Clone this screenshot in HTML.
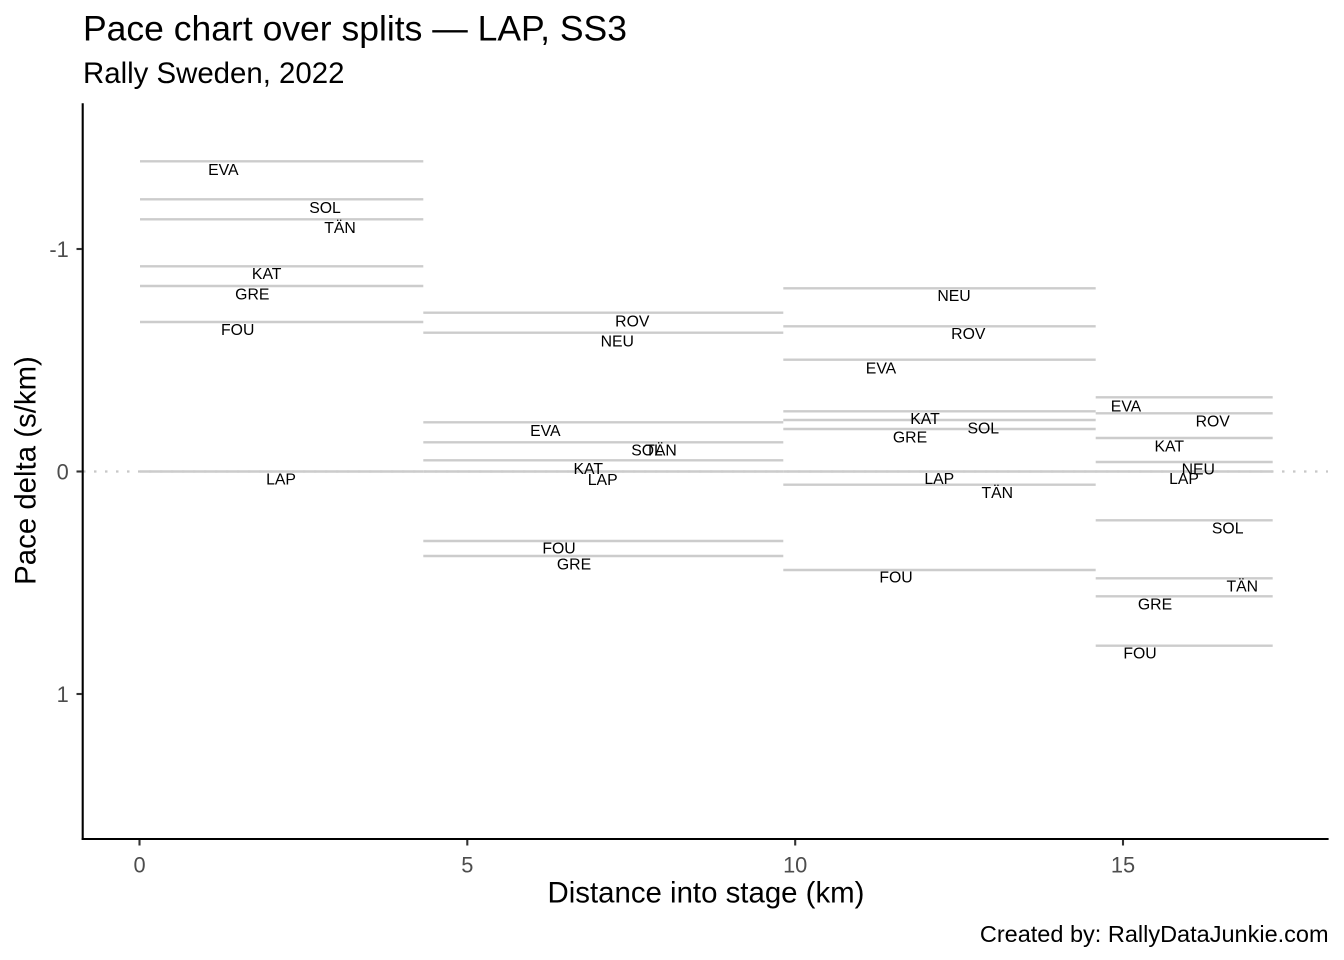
<!DOCTYPE html>
<html>
<head>
<meta charset="utf-8">
<style>
  html, body { margin: 0; padding: 0; background: #ffffff; }
  svg { display: block; }
  text { font-family: "Liberation Sans", Arial, sans-serif; }
</style>
</head>
<body>
<svg width="1344" height="960" viewBox="0 0 1344 960" xmlns="http://www.w3.org/2000/svg">
  <rect x="0" y="0" width="1344" height="960" fill="#ffffff"/>

  <!-- Title / subtitle -->
  <text x="83" y="40.5" font-size="35.5" fill="#000000">Pace chart over splits — LAP, SS3</text>
  <text x="83" y="83" font-size="29.4" fill="#000000">Rally Sweden, 2022</text>

  <!-- zero reference dotted line -->
  <line x1="83" y1="471.5" x2="1328" y2="471.5" stroke="#c8c8c8" stroke-width="2.2" stroke-dasharray="2.5 8.5"/>

  <!-- Segment lines -->
  <g stroke="#cccccc" stroke-width="2.4" fill="none">
    <!-- seg 1 -->
    <line x1="140" y1="161.3" x2="423.3" y2="161.3"/>
    <line x1="140" y1="199.3" x2="423.3" y2="199.3"/>
    <line x1="140" y1="219.3" x2="423.3" y2="219.3"/>
    <line x1="140" y1="266.3" x2="423.3" y2="266.3"/>
    <line x1="140" y1="286" x2="423.3" y2="286"/>
    <line x1="140" y1="322" x2="423.3" y2="322"/>
    <line x1="140" y1="471.5" x2="423.3" y2="471.5"/>
    <!-- seg 2 -->
    <line x1="423.3" y1="312.7" x2="783.3" y2="312.7"/>
    <line x1="423.3" y1="332.7" x2="783.3" y2="332.7"/>
    <line x1="423.3" y1="422.3" x2="783.3" y2="422.3"/>
    <line x1="423.3" y1="442.3" x2="783.3" y2="442.3"/>
    <line x1="423.3" y1="460.3" x2="783.3" y2="460.3"/>
    <line x1="423.3" y1="471.5" x2="783.3" y2="471.5"/>
    <line x1="423.3" y1="541" x2="783.3" y2="541"/>
    <line x1="423.3" y1="556" x2="783.3" y2="556"/>
    <!-- seg 3 -->
    <line x1="783.3" y1="288.3" x2="1095.7" y2="288.3"/>
    <line x1="783.3" y1="326.3" x2="1095.7" y2="326.3"/>
    <line x1="783.3" y1="359.7" x2="1095.7" y2="359.7"/>
    <line x1="783.3" y1="411.3" x2="1095.7" y2="411.3"/>
    <line x1="783.3" y1="420" x2="1095.7" y2="420"/>
    <line x1="783.3" y1="429" x2="1095.7" y2="429"/>
    <line x1="783.3" y1="471.5" x2="1095.7" y2="471.5"/>
    <line x1="783.3" y1="484.7" x2="1095.7" y2="484.7"/>
    <line x1="783.3" y1="570" x2="1095.7" y2="570"/>
    <!-- seg 4 -->
    <line x1="1095.7" y1="397.3" x2="1272.7" y2="397.3"/>
    <line x1="1095.7" y1="413.3" x2="1272.7" y2="413.3"/>
    <line x1="1095.7" y1="438" x2="1272.7" y2="438"/>
    <line x1="1095.7" y1="462" x2="1272.7" y2="462"/>
    <line x1="1095.7" y1="471.5" x2="1272.7" y2="471.5"/>
    <line x1="1095.7" y1="520.3" x2="1272.7" y2="520.3"/>
    <line x1="1095.7" y1="578.3" x2="1272.7" y2="578.3"/>
    <line x1="1095.7" y1="596.3" x2="1272.7" y2="596.3"/>
    <line x1="1095.7" y1="645.7" x2="1272.7" y2="645.7"/>
  </g>

  <!-- Labels -->
  <g font-size="15.8" fill="#000000" text-anchor="middle">
    <!-- seg 1 -->
    <text x="223.3" y="174.9">EVA</text>
    <text x="325" y="212.9">SOL</text>
    <text x="340" y="232.9">TÄN</text>
    <text x="266.7" y="278.9">KAT</text>
    <text x="252.3" y="299.6">GRE</text>
    <text x="237.7" y="334.9">FOU</text>
    <text x="281" y="484.6">LAP</text>
    <!-- seg 2 -->
    <text x="632.3" y="326.3">ROV</text>
    <text x="617.3" y="346.3">NEU</text>
    <text x="545.3" y="435.9">EVA</text>
    <text x="647" y="455.6">SOL</text>
    <text x="661" y="455.6">TÄN</text>
    <text x="588.3" y="473.9">KAT</text>
    <text x="602.7" y="484.9">LAP</text>
    <text x="559" y="553.6">FOU</text>
    <text x="574" y="569.6">GRE</text>
    <!-- seg 3 -->
    <text x="954" y="300.9">NEU</text>
    <text x="968.3" y="338.9">ROV</text>
    <text x="881" y="373.6">EVA</text>
    <text x="925" y="423.9">KAT</text>
    <text x="983.3" y="433.3">SOL</text>
    <text x="910" y="442.3">GRE</text>
    <text x="939.3" y="483.9">LAP</text>
    <text x="997.3" y="497.9">TÄN</text>
    <text x="896" y="582.6">FOU</text>
    <!-- seg 4 -->
    <text x="1126" y="411.6">EVA</text>
    <text x="1212.7" y="426.6">ROV</text>
    <text x="1169.3" y="451.6">KAT</text>
    <text x="1198.3" y="474.6">NEU</text>
    <text x="1184" y="483.9">LAP</text>
    <text x="1227.7" y="533.3">SOL</text>
    <text x="1242.3" y="591.3">TÄN</text>
    <text x="1155" y="609.6">GRE</text>
    <text x="1140" y="658.3">FOU</text>
  </g>

  <!-- Axes -->
  <line x1="82.7" y1="103.3" x2="82.7" y2="840" stroke="#000000" stroke-width="2.1"/>
  <line x1="81.7" y1="839" x2="1328.6" y2="839" stroke="#000000" stroke-width="2.1"/>

  <!-- Y ticks -->
  <g stroke="#333333" stroke-width="2.1">
    <line x1="76.5" y1="249" x2="82" y2="249"/>
    <line x1="76.5" y1="471.5" x2="82" y2="471.5"/>
    <line x1="76.5" y1="694" x2="82" y2="694"/>
  </g>
  <g font-size="21.8" fill="#4d4d4d" text-anchor="end">
    <text x="68.8" y="256.8">-1</text>
    <text x="68.8" y="479.3">0</text>
    <text x="68.8" y="701.8">1</text>
  </g>

  <!-- X ticks -->
  <g stroke="#333333" stroke-width="2.1">
    <line x1="139.5" y1="840" x2="139.5" y2="845.5"/>
    <line x1="467.3" y1="840" x2="467.3" y2="845.5"/>
    <line x1="795.2" y1="840" x2="795.2" y2="845.5"/>
    <line x1="1123" y1="840" x2="1123" y2="845.5"/>
  </g>
  <g font-size="21.8" fill="#4d4d4d" text-anchor="middle">
    <text x="139.5" y="872.5">0</text>
    <text x="467.3" y="872.5">5</text>
    <text x="795.2" y="872.5">10</text>
    <text x="1123" y="872.5">15</text>
  </g>

  <!-- Axis titles -->
  <text x="706" y="902.5" font-size="29.4" fill="#000000" text-anchor="middle">Distance into stage (km)</text>
  <text transform="translate(35.5,470.5) rotate(-90)" font-size="29.4" fill="#000000" text-anchor="middle">Pace delta (s/km)</text>

  <!-- Caption -->
  <text x="1328.6" y="942" font-size="23.5" fill="#000000" text-anchor="end">Created by: RallyDataJunkie.com</text>
</svg>
</body>
</html>
